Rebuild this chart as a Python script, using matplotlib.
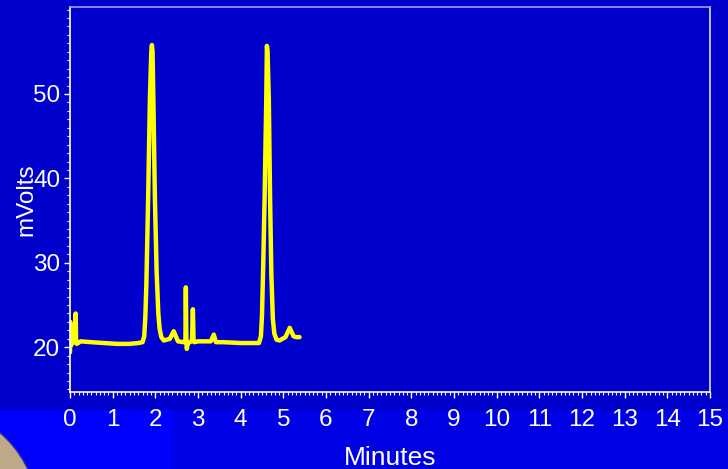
import matplotlib
matplotlib.use("Agg")
import matplotlib.pyplot as plt
from matplotlib.patches import Rectangle, Ellipse
from matplotlib.ticker import MultipleLocator

# Chromatogram trace (minutes, mVolts)
time_min = [0.0, 0.005, 0.012, 0.02, 0.05, 0.10, 0.125, 0.133, 0.142, 0.16,
            0.25, 0.5, 0.8, 1.1, 1.4, 1.6, 1.70, 1.74, 1.765, 1.79, 1.832,
            1.872, 1.905, 1.919, 1.935, 1.954, 1.989, 2.03, 2.07, 2.10, 2.14, 2.2, 2.34,
            2.43, 2.53, 2.67, 2.705, 2.715, 2.727, 2.738, 2.76, 2.81, 2.86,
            2.88, 2.895, 2.91, 3.0, 3.3, 3.37, 3.42, 3.6, 4.0, 4.3,
            4.43, 4.475, 4.50, 4.53, 4.56, 4.60, 4.615, 4.63, 4.66, 4.69, 4.72, 4.755,
            4.79, 4.84, 4.91, 5.05, 5.15, 5.24, 5.30, 5.38]
signal_mv = [19.4, 23.0, 22.0, 20.2, 20.5, 20.6, 20.8, 24.0, 20.8, 20.4,
             20.7, 20.6, 20.5, 20.4, 20.4, 20.5, 20.6, 21.3, 23.5, 27.5, 37.8,
             49.3, 55.0, 55.8, 55.0, 49.3, 37.8, 29.0, 24.0, 22.2, 21.2, 20.8, 21.0,
             21.9, 20.7, 20.6, 20.8, 27.1, 21.0, 19.8, 20.5, 20.6, 20.8,
             24.5, 21.0, 20.6, 20.7, 20.7, 21.5, 20.6, 20.6, 20.5, 20.5,
             20.5, 21.3, 23.8, 30.0, 37.4, 49.3, 55.7, 55.0, 49.3, 37.4, 28.5, 23.3,
             21.6, 20.9, 20.8, 21.2, 22.3, 21.3, 21.2, 21.2]

x_ticks = list(range(0, 16))
y_ticks = [20, 30, 40, 50]

W, H = 728, 469
fig = plt.figure(figsize=(W / 100, H / 100), dpi=100)
fig.patch.set_facecolor('#0000CC')

# bottom bands and tan circle decoration
fig.add_artist(Rectangle((0, 0), 173 / W, 59 / H, transform=fig.transFigure,
                         facecolor='#0000FF', edgecolor='none', zorder=0))
fig.add_artist(Rectangle((173 / W, 0), 1 - 173 / W, 59 / H, transform=fig.transFigure,
                         facecolor='#0000E4', edgecolor='none', zorder=0))
fig.add_artist(Ellipse((-70 / W, -46 / H), 216 / W, 216 / H, transform=fig.transFigure,
                       facecolor='#BEA88A', edgecolor='#3030A0', linewidth=1, zorder=0.5))

ax = fig.add_axes([70 / W, (H - 392) / H, 640 / W, 385 / H])
ax.set_facecolor('#0000CC')
ax.plot(time_min, signal_mv, color='#FFFF00', linewidth=3.2, solid_joinstyle='round',
        solid_capstyle='round')

ax.set_xlim(0, 15)
ax.set_ylim(14.7, 60.3)
ax.set_xticks(x_ticks)
ax.set_yticks(y_ticks)
ax.xaxis.set_minor_locator(MultipleLocator(0.1))
ax.yaxis.set_minor_locator(MultipleLocator(1))

font = ['Liberation Sans', 'DejaVu Sans']
ax.tick_params(axis='both', which='major', colors='white', labelsize=17.5, length=4, width=1)
ax.tick_params(axis='both', which='minor', colors='white', length=2.5, width=0.8)
ax.tick_params(axis='x', pad=8)
ax.tick_params(axis='y', pad=3)
for lab in ax.get_xticklabels() + ax.get_yticklabels():
    lab.set_fontfamily(font)

ax.spines['left'].set_color('white')
ax.spines['bottom'].set_color('white')
ax.spines['top'].set_color('#A0A0E8')
ax.spines['right'].set_color('#E0E0F5')
for s in ax.spines.values():
    s.set_linewidth(1.2)

ax.set_xlabel('Minutes', color='white', fontsize=19, family=font, labelpad=11)
ax.set_ylabel('mVolts', color='white', fontsize=17.5, family=font, labelpad=-3)

fig.savefig('out.png', dpi=100, facecolor=fig.get_facecolor())
